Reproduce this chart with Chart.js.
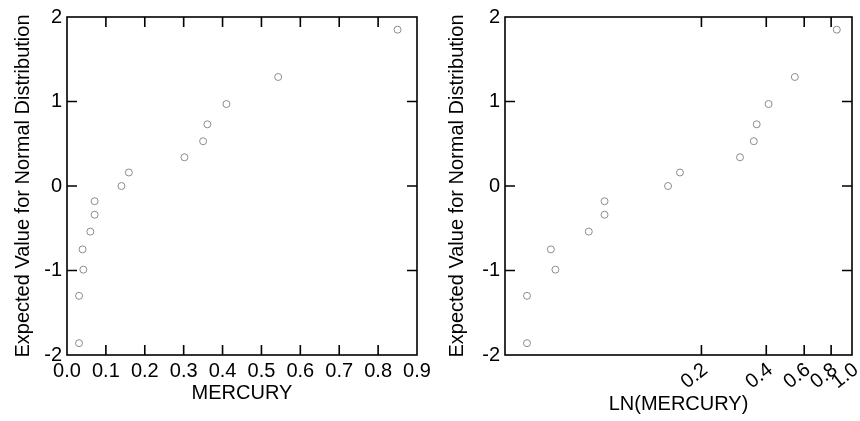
<!DOCTYPE html>
<html>
<head>
<meta charset="utf-8">
<script src="https://cdn.jsdelivr.net/npm/chart.js@4.4.1/dist/chart.umd.min.js"></script>
<style>
    html, body { margin: 0; padding: 0; background: #fff; }
    #wrap { position: relative; width: 860px; height: 421px; }
    .box { position: absolute; top: 0; width: 430px; height: 421px; }
</style>
</head>
<body>
<div id="wrap">
    <div class="box" style="left:0"><canvas id="rawChart"></canvas></div>
    <div class="box" style="left:430px"><canvas id="logChart"></canvas></div>
</div>
<script>
// mercury concentration and expected normal score
const mercury = [0.031, 0.031, 0.042, 0.040, 0.060, 0.071, 0.071, 0.140, 0.159, 0.302, 0.350, 0.361, 0.410, 0.543, 0.850];
const normalScore = [-1.86, -1.30, -0.99, -0.75, -0.54, -0.34, -0.18, 0.00, 0.16, 0.34, 0.53, 0.73, 0.97, 1.29, 1.85];
const yTicks = [-2, -1, 0, 1, 2];
const rawTicks = [0.0, 0.1, 0.2, 0.3, 0.4, 0.5, 0.6, 0.7, 0.8, 0.9];
const logTicks = [0.2, 0.4, 0.6, 0.8, 1.0];

const font = { family: 'Liberation Sans, Arial, sans-serif', size: 20 };

// frame + inward tick marks on all four sides
const frameTicks = {
    id: 'frameTicks',
    afterDatasetsDraw(chart) {
        const { ctx, chartArea: a, scales: { x, y } } = chart;
        const len = 10;
        ctx.save();
        ctx.strokeStyle = '#000';
        ctx.lineWidth = 1.6;
        ctx.strokeRect(a.left, a.top, a.right - a.left, a.bottom - a.top);
        ctx.beginPath();
        x.ticks.forEach(t => {
            const px = x.getPixelForValue(t.value);
            if (px - a.left < 3 || a.right - px < 3) return;
            ctx.moveTo(px, a.bottom); ctx.lineTo(px, a.bottom - len);
            ctx.moveTo(px, a.top); ctx.lineTo(px, a.top + len);
        });
        y.ticks.forEach(t => {
            const py = y.getPixelForValue(t.value);
            if (py - a.top < 3 || a.bottom - py < 3) return;
            ctx.moveTo(a.left, py); ctx.lineTo(a.left + len, py);
            ctx.moveTo(a.right, py); ctx.lineTo(a.right - len, py);
        });
        ctx.stroke();
        ctx.restore();
    }
};

function makeChart(id, xs, xScale, pad, yWidth, xHeight) {
    new Chart(document.getElementById(id), {
        type: 'scatter',
        data: {
            datasets: [{
                data: xs.map((v, i) => ({ x: v, y: normalScore[i] })),
                pointStyle: 'circle',
                pointRadius: 3.5,
                backgroundColor: 'rgba(0,0,0,0)',
                borderColor: '#8c8c8c',
                borderWidth: 1
            }]
        },
        options: {
            responsive: true,
            maintainAspectRatio: false,
            animation: false,
            layout: { padding: pad },
            plugins: {
                legend: { display: false },
                tooltip: { enabled: false }
            },
            scales: {
                x: Object.assign({
                    grid: { display: false, drawTicks: false },
                    border: { display: false },
                    afterFit: s => {
                        s.height = xHeight;
                        s.paddingLeft = 0;
                        s.paddingRight = 0;
                    }
                }, xScale),
                y: {
                    min: -2,
                    max: 2,
                    afterBuildTicks: s => { s.ticks = yTicks.map(v => ({ value: v })); },
                    grid: { display: false, drawTicks: false },
                    border: { display: false },
                    ticks: { color: '#000', font: font, padding: 5 },
                    title: {
                        display: true,
                        text: 'Expected Value for Normal Distribution',
                        color: '#000',
                        font: font,
                        padding: 0
                    },
                    afterFit: s => { s.width = yWidth; }
                }
            }
        },
        plugins: [frameTicks]
    });
}

makeChart('rawChart', mercury, {
    type: 'linear',
    min: 0,
    max: 0.9,
    afterBuildTicks: s => { s.ticks = rawTicks.map(v => ({ value: v })); },
    ticks: {
        color: '#000', font: font, padding: 4,
        maxRotation: 0, autoSkip: false,
        callback: v => Number(v).toFixed(1)
    },
    title: { display: true, text: 'MERCURY', color: '#000', font: font, padding: 0 }
}, { left: 11, right: 13, top: 13, bottom: 16 }, 56, 50);

makeChart('logChart', mercury, {
    type: 'logarithmic',
    min: 0.0245,
    max: 1.0,
    afterBuildTicks: s => { s.ticks = logTicks.map(v => ({ value: v })); },
    ticks: {
        color: '#000', font: font, padding: 3,
        minRotation: 38, maxRotation: 38, autoSkip: false,
        labelOffset: 4,
        callback: v => Number(v).toFixed(1)
    },
    title: { display: true, text: 'LN(MERCURY)', color: '#000', font: font, padding: 0 }
}, { left: 15, right: 8, top: 13, bottom: 5 }, 60, 61);
</script>
</body>
</html>
